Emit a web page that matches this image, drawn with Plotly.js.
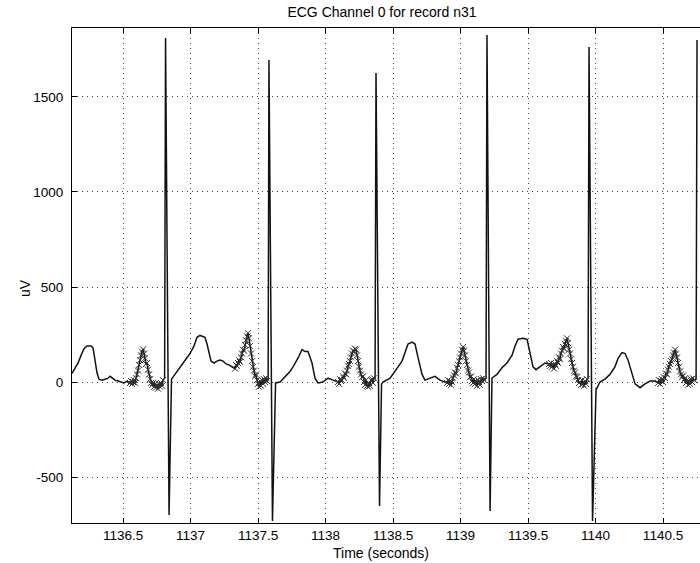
<!DOCTYPE html>
<html><head><meta charset="utf-8">
<script src="https://cdn.plot.ly/plotly-3.0.1.min.js"></script>
<style>html,body{margin:0;padding:0;background:#fff}</style>
</head><body><div id="chart" style="width:700px;height:563px"></div>
<script>
// Unmarked ECG samples (time in seconds, amplitude in uV)
const baseTime = [
 1136.122,1136.144,1136.167,1136.189,1136.211,1136.233,1136.263,1136.278,1136.293,1136.307,1136.322,1136.344,1136.367,1136.389,1136.404,1136.419,1136.441,1136.463,1136.485,1136.507,1136.530,
 1136.808,1136.815,1136.841,1136.859,
 1136.885,1136.922,1136.959,1136.996,1137.026,1137.048,1137.070,1137.093,1137.107,1137.122,1137.137,1137.152,1137.174,1137.196,1137.219,1137.241,1137.263,1137.285,1137.307,1137.322,
 1137.575,1137.581,1137.607,1137.630,
 1137.663,1137.700,1137.737,1137.759,1137.796,1137.826,1137.848,1137.870,1137.900,1137.922,1137.944,1137.981,1138.019,1138.056,1138.085,
 1138.367,1138.374,1138.400,1138.415,
 1138.426,1138.478,1138.515,1138.537,1138.567,1138.589,1138.611,1138.641,1138.663,1138.685,1138.715,1138.737,1138.774,1138.811,1138.848,1138.885,
 1139.189,1139.196,1139.219,1139.233,
 1139.241,1139.270,1139.307,1139.344,1139.381,1139.404,1139.426,1139.463,1139.493,1139.515,1139.537,1139.559,1139.589,1139.626,
 1139.945,1139.952,1139.978,1140.004,
 1140.011,1140.033,1140.070,1140.107,1140.144,1140.167,1140.196,1140.219,1140.241,1140.270,1140.293,1140.330,1140.367,1140.404,1140.441,
 1140.745,1140.752
];
const baseUv = [
 45,70,100,140,175,190,190,180,120,50,15,10,15,20,30,20,10,5,0,-5,5,
 20,1810,-700,15,
 40,75,110,150,190,235,245,240,235,200,150,110,100,110,115,110,95,90,80,75,
 20,1695,-731,-5,
 0,25,55,80,125,170,160,160,100,20,-5,0,20,10,0,
 20,1626,-653,-10,
 0,20,55,75,110,155,200,210,200,130,40,10,20,30,10,0,
 20,1826,-679,20,
 25,40,75,100,140,190,225,230,225,150,80,65,80,100,
 20,1763,-731,-40,
 -30,0,15,40,80,125,155,150,115,40,-10,-30,-10,5,5,
 15,1800
];
// Marked (annotated) samples around the P waves
const markTime = [
 1136.552,1136.559,1136.567,1136.574,1136.581,1136.589,1136.596,1136.604,1136.611,1136.619,1136.626,1136.633,1136.641,1136.648,1136.656,1136.663,1136.670,1136.678,1136.685,1136.693,1136.700,1136.707,1136.715,1136.722,1136.730,1136.737,1136.744,1136.752,1136.759,1136.767,1136.774,1136.781,1136.789,1136.796,
 1137.330,1137.337,1137.344,1137.352,1137.359,1137.367,1137.374,1137.381,1137.389,1137.396,1137.404,1137.411,1137.419,1137.426,1137.433,1137.441,1137.448,1137.456,1137.463,1137.470,1137.478,1137.485,1137.493,1137.500,1137.507,1137.515,1137.522,1137.530,1137.537,1137.544,1137.552,1137.559,1137.567,
 1138.093,1138.100,1138.107,1138.115,1138.122,1138.130,1138.137,1138.144,1138.152,1138.159,1138.167,1138.174,1138.181,1138.189,1138.196,1138.204,1138.211,1138.219,1138.226,1138.233,1138.241,1138.248,1138.256,1138.263,1138.270,1138.278,1138.285,1138.293,1138.300,1138.307,1138.315,1138.322,1138.330,1138.337,1138.344,1138.352,1138.359,
 1138.900,1138.907,1138.915,1138.922,1138.930,1138.937,1138.944,1138.952,1138.959,1138.967,1138.974,1138.981,1138.989,1138.996,1139.004,1139.011,1139.019,1139.026,1139.033,1139.041,1139.048,1139.056,1139.063,1139.070,1139.078,1139.085,1139.093,1139.100,1139.107,1139.115,1139.122,1139.130,1139.137,1139.144,1139.152,1139.159,1139.167,1139.174,
 1139.656,1139.663,1139.670,1139.678,1139.685,1139.693,1139.700,1139.707,1139.715,1139.722,1139.730,1139.737,1139.744,1139.752,1139.759,1139.767,1139.774,1139.781,1139.789,1139.796,1139.804,1139.811,1139.819,1139.826,1139.833,1139.841,1139.848,1139.856,1139.863,1139.870,1139.878,1139.885,1139.893,1139.900,1139.907,1139.915,1139.922,1139.930,1139.937,
 1140.463,1140.470,1140.478,1140.485,1140.493,1140.500,1140.507,1140.515,1140.522,1140.530,1140.537,1140.544,1140.552,1140.559,1140.567,1140.574,1140.581,1140.589,1140.596,1140.604,1140.611,1140.619,1140.626,1140.633,1140.641,1140.648,1140.656,1140.663,1140.670,1140.678,1140.685,1140.693,1140.700,1140.707,1140.715,1140.722,1140.730
];
const markUv = [
 -5,5,-10,0,10,-5,20,40,60,90,115,140,160,172,150,125,95,100,65,40,15,-5,-15,-5,-25,-10,-30,-15,-35,-10,-25,-5,-20,10,
 70,90,85,100,115,105,130,150,170,165,195,220,240,257,230,190,150,110,80,60,30,40,10,-10,-25,5,-20,10,-10,15,0,20,5,
 0,-10,15,5,10,30,20,45,40,60,85,95,110,130,150,165,160,175,170,140,110,80,60,40,25,30,0,-15,10,-20,-25,-5,-20,10,15,-5,20,
 -5,10,-10,5,-15,0,20,35,50,45,75,90,110,130,150,170,185,165,140,110,90,60,50,25,30,5,-5,15,-10,5,-20,10,0,-15,15,5,20,10,
 95,85,100,80,90,70,95,85,110,100,130,120,150,165,185,175,200,215,230,205,170,150,120,100,80,60,50,30,25,10,-5,0,-15,10,-10,-20,5,-10,15,
 -5,10,-10,5,15,0,25,20,45,40,65,80,95,110,120,140,155,170,150,130,100,80,55,40,25,35,10,20,-5,10,-15,5,-10,15,0,20,10
];
const xTickVals = [1136.5,1137,1137.5,1138,1138.5,1139,1139.5,1140,1140.5];
const xTickText = ['1136.5','1137','1137.5','1138','1138.5','1139','1139.5','1140','1140.5'];
const yTickVals = [-500,0,500,1000,1500];
const yTickText = ['-500','0','500','1000','1500'];

const pts = baseTime.map((t,i)=>[t, baseUv[i]])
  .concat(markTime.map((t,i)=>[t, markUv[i]]))
  .sort((a,b)=>a[0]-b[0]);

const FONT = 'Liberation Sans, Arial, Helvetica, sans-serif';

const traces = [
  {x: pts.map(p=>p[0]), y: pts.map(p=>p[1]), type:'scatter', mode:'lines',
   line:{color:'#111', width:1.5}, hoverinfo:'skip'},
  {x: markTime, y: markUv, type:'scatter', mode:'markers',
   marker:{symbol:'x-thin-open', size:6, line:{color:'#333', width:1}, color:'#333'}, hoverinfo:'skip'}
];

const axisCommon = {
  showline:true, linecolor:'#000', linewidth:1,
  ticks:'inside', ticklen:5, tickcolor:'#000', tickwidth:1,
  showgrid:true, gridcolor:'#444', gridwidth:1, griddash:'1px,4px',
  zeroline:false, automargin:false,
  tickfont:{family:FONT, size:13.5, color:'#000'}
};

const layout = {
  width:700, height:563,
  margin:{l:72, r:0, t:28, b:40},
  paper_bgcolor:'#fff', plot_bgcolor:'#fff',
  showlegend:false,
  font:{family:FONT, size:14, color:'#000'},
  title:{text:'ECG Channel 0 for record n31', x:0.5457, xanchor:'center', xref:'container',
         y:1-12/563, yanchor:'middle', font:{family:FONT, size:14, color:'#000'}},
  xaxis: Object.assign({}, axisCommon, {
    range:[1136.122, 1140.774], tickvals:xTickVals, ticktext:xTickText,
    mirror:'ticks', ticklabelstandoff:0
  }),
  yaxis: Object.assign({}, axisCommon, {
    range:[-742, 1863], tickvals:yTickVals, ticktext:yTickText,
    mirror:false, ticklabelstandoff:5
  }),
  annotations:[
    {text:'Time (seconds)', xref:'paper', yref:'paper', x:0.492, y:-0.0596,
     xanchor:'center', yanchor:'middle', showarrow:false, font:{family:FONT, size:14, color:'#000'}},
    {text:'uV', xref:'paper', yref:'paper', x:-0.0748, y:0.4747, textangle:-90,
     xanchor:'center', yanchor:'middle', showarrow:false, font:{family:FONT, size:14, color:'#000'}}
  ]
};

Plotly.newPlot('chart', traces, layout, {staticPlot:true, displayModeBar:false});
</script>
</body></html>
